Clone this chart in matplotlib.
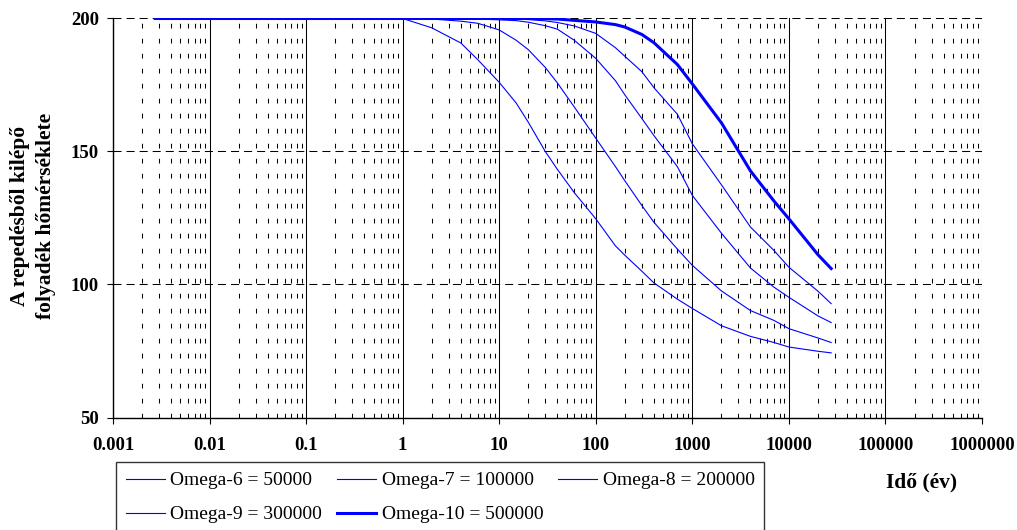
import numpy as np
import matplotlib
matplotlib.use('Agg')
import matplotlib.pyplot as plt
from matplotlib.ticker import FixedLocator, LogLocator, NullFormatter

plt.rcParams['font.family'] = ['Liberation Serif', 'DejaVu Serif']
plt.rcParams['lines.scale_dashes'] = False

# time in years (1 day ... 1e7 days)
time_years = [0.00274, 1, 2, 4, 6, 10, 15, 20, 30, 40, 60, 100, 160, 200, 300,
              400, 700, 1000, 2000, 4000, 7000, 10000, 20000, 27400]

omega6 = [200, 200, 196.5, 190.8, 184.5, 176, 168.2, 161, 150, 143.3, 134.5, 124.7,
          114.5, 111, 105, 100.6, 94.5, 91, 84.5, 80.5, 78.2, 76.5, 74.9, 74.3]
omega7 = [200, 200, 199.8, 199, 198.2, 195.7, 191.8, 188.3, 181.6, 175.8, 166.7, 155,
          144.3, 139, 129.7, 123.4, 113.3, 107.2, 97.6, 90.2, 86.5, 83.4, 79.9, 78.2]
omega8 = [200, 200, 200, 200, 199.8, 199.5, 199.2, 198.6, 197.3, 196, 191.8, 185,
          176.6, 171.3, 162.4, 156, 144.3, 133.5, 119.3, 106.2, 99, 95.2, 88.2, 85.7]
omega9 = [200, 200, 200, 200, 200, 200, 199.8, 199.6, 199.1, 198.5, 197.2, 194.4,
          189, 185.8, 180, 174, 164, 152.9, 137.5, 121.6, 112.8, 106.5, 97.5, 92.8]
omega10 = [200, 200, 200, 200, 200, 200, 200, 200, 199.9, 199.8, 199.3, 198.7,
           197.7, 196.8, 194, 190.9, 182.7, 175.4, 160.8, 142.7, 131.4, 124.7, 111.2, 106]

series_labels = ['Omega-6 = 50000', 'Omega-7 = 100000', 'Omega-8 = 200000',
                 'Omega-9 = 300000', 'Omega-10 = 500000']
series_values = [omega6, omega7, omega8, omega9, omega10]
series_widths = [0.8, 0.8, 0.8, 0.8, 2.2]

x_ticks = [0.001, 0.01, 0.1, 1, 10, 100, 1000, 10000, 100000, 1000000]
x_tick_labels = ['0.001', '0.01', '0.1', '1', '10', '100', '1000', '10000', '100000', '1000000']
y_ticks = [50, 100, 150, 200]

fig = plt.figure(figsize=(10.17, 5.30), dpi=100)
ax = fig.add_axes([113 / 1017, 1 - 417.5 / 530, (982 - 113) / 1017, (417.5 - 18.5) / 530])

handles = []
for vals, lab, lw in zip(series_values, series_labels, series_widths):
    h, = ax.plot(time_years, vals, color='#0000FF', linewidth=lw, label=lab, zorder=3)
    handles.append(h)

ax.set_xscale('log')
ax.set_xlim(0.001, 1000000)
ax.set_ylim(50, 200)

ax.xaxis.set_major_locator(FixedLocator(x_ticks))
ax.set_xticklabels(x_tick_labels)
ax.xaxis.set_minor_locator(LogLocator(base=10, subs=np.arange(2, 10), numticks=100))
ax.xaxis.set_minor_formatter(NullFormatter())
ax.set_yticks(y_ticks)

# grid lines like the Excel original
ax.xaxis.grid(True, which='major', color='black', linewidth=0.75, linestyle='-')
ax.xaxis.grid(True, which='minor', color='black', linewidth=0.75, linestyle=(0, (3.4, 7.4)))
ax.yaxis.grid(True, which='major', color='black', linewidth=0.75, linestyle=(0, (5.8, 3.6)))
ax.set_axisbelow(True)

ax.spines['top'].set_visible(False)
ax.spines['right'].set_visible(False)
ax.spines['left'].set_linewidth(1.0)
ax.spines['bottom'].set_linewidth(1.0)

ax.tick_params(axis='x', which='major', direction='out', length=4, width=0.8, pad=10)
ax.tick_params(axis='x', which='minor', length=0)
ax.tick_params(axis='y', which='major', direction='out', length=4, width=0.8, pad=6)
for lbl in ax.get_xticklabels() + ax.get_yticklabels():
    lbl.set_fontsize(13.5)
    lbl.set_fontweight('bold')

fig.text(33 / 1017, 1 - 216 / 530, 'A repedésből kilépő\nfolyadék hőmérséklete',
         rotation=90, ha='center', va='center', fontsize=15.5, fontweight='bold',
         multialignment='center', linespacing=1.45)
fig.text(922 / 1017, 1 - 482 / 530, 'Idő (év)', ha='center', va='center',
         fontsize=15.5, fontweight='bold')

# legend fills rows first in the original
order = [0, 3, 1, 4, 2]
leg = fig.legend(handles=[handles[i] for i in order], loc='upper left',
                 bbox_to_anchor=(116 / 1017, 1 - 462 / 530),
                 ncol=3, fontsize=14, frameon=True, fancybox=False, edgecolor='black',
                 borderpad=0.5, handlelength=2.0, handletextpad=0.3, columnspacing=0.75,
                 labelspacing=0.85, borderaxespad=0)
leg.get_frame().set_linewidth(1.0)

fig.savefig('out.png', dpi=100)
